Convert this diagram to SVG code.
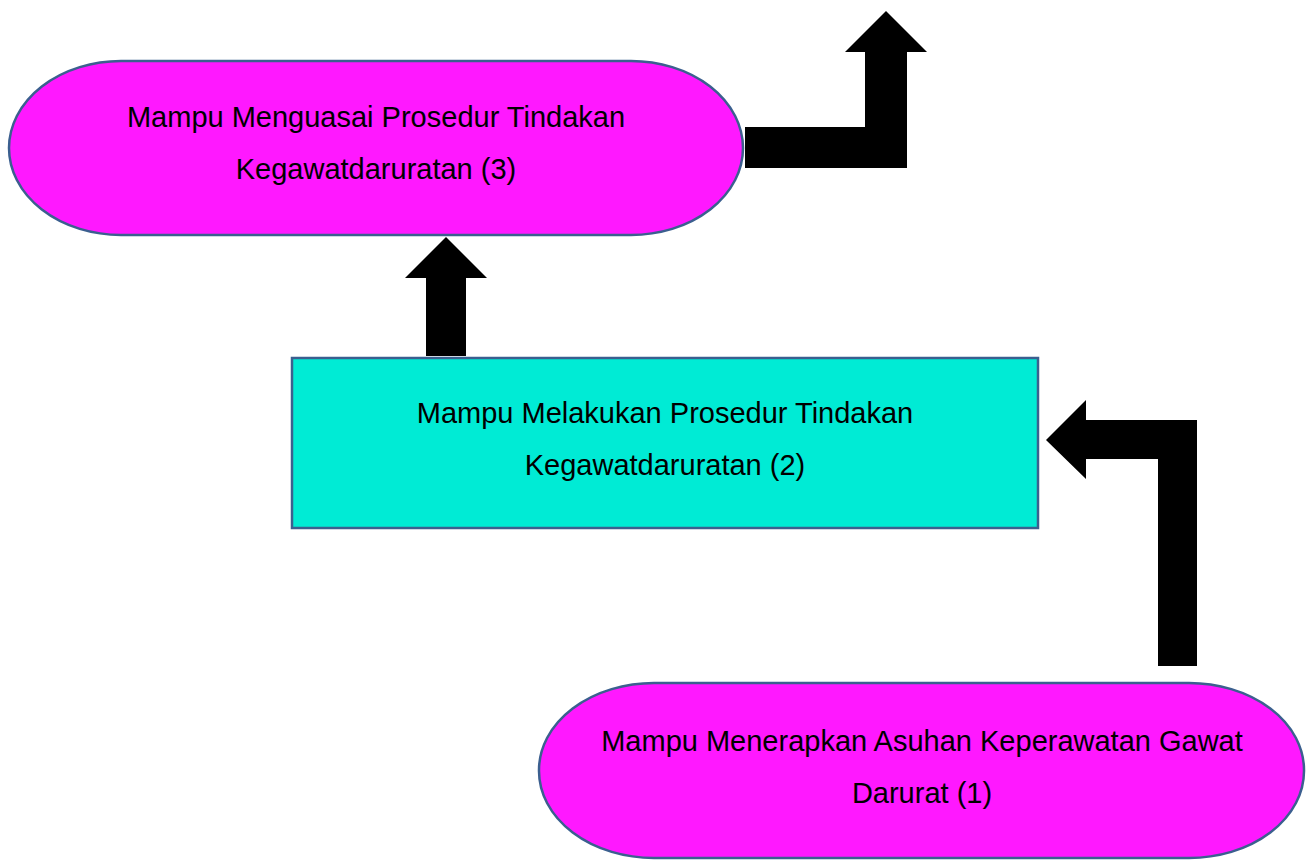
<svg xmlns="http://www.w3.org/2000/svg" width="1311" height="860" viewBox="0 0 1311 860">
<style>
.term{fill:#FF18FF;stroke:#3B5F8F;stroke-width:2.5}
.proc{fill:#00EBD5;stroke:#3B5F8F;stroke-width:2.5}
.lbl{font-family:"Liberation Sans",Arial,sans-serif;font-size:29px;fill:#000;text-anchor:middle}
.arr{fill:#000;stroke:none}
</style>
<rect width="1311" height="860" fill="#fff"/>
<g id="node3">
<rect class="term" x="9" y="61" width="734" height="174" rx="112" ry="87"/>
<text class="lbl" x="376" y="127">Mampu Menguasai Prosedur Tindakan</text>
<text class="lbl" x="376" y="179">Kegawatdaruratan (3)</text>
</g>
<g id="node2">
<rect class="proc" x="292" y="358" width="746" height="170"/>
<text class="lbl" x="665" y="423">Mampu Melakukan Prosedur Tindakan</text>
<text class="lbl" x="665" y="475">Kegawatdaruratan (2)</text>
</g>
<g id="node1">
<rect class="term" x="539" y="683" width="765" height="175" rx="115" ry="87"/>
<text class="lbl" x="922" y="751">Mampu Menerapkan Asuhan Keperawatan Gawat</text>
<text class="lbl" x="922" y="803">Darurat (1)</text>
</g>
<g id="connectors">
<polygon class="arr" points="745,127 865,127 865,52 845,52 886,11 927,52 907,52 907,168 745,168"/>
<polygon class="arr" points="426,356 426,278 405,278 446,237 487,278 466,278 466,356"/>
<polygon class="arr" points="1158,666 1158,459 1086,459 1086,479 1046,440 1086,400 1086,420 1197,420 1197,666"/>
</g>
</svg>
